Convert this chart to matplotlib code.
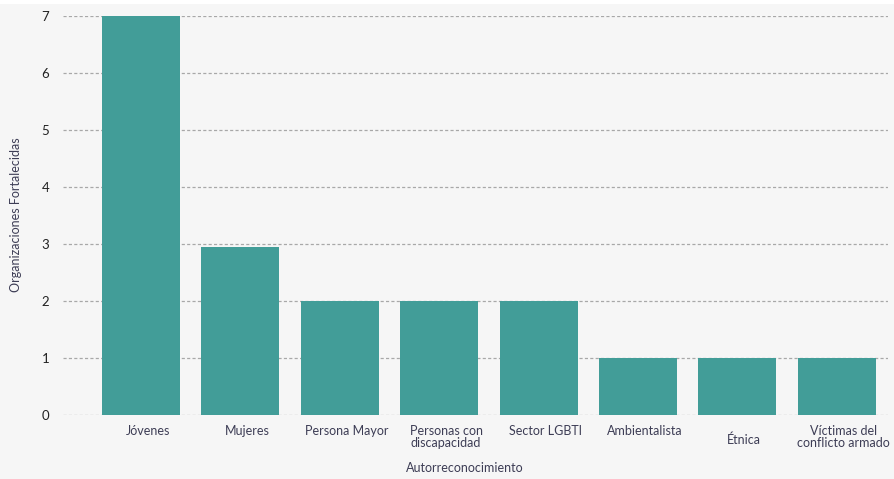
import matplotlib.pyplot as plt
import matplotlib.transforms as mtransforms
from matplotlib.patches import Rectangle

# Data
categorias = ["Jóvenes", "Mujeres", "Persona Mayor", "Personas con\ndiscapacidad",
              "Sector LGBTI", "Ambientalista", "Étnica", "Víctimas del\nconflicto armado"]
organizaciones = [7, 2.95, 2, 2, 2, 1, 1, 1]
y_ticks = [0, 1, 2, 3, 4, 5, 6, 7]

plt.rcParams["font.family"] = ["Lato", "DejaVu Sans"]

fig = plt.figure(figsize=(8.95, 4.79), dpi=100)
fig.patch.set_facecolor("#f6f6f6")
fig.patches.append(Rectangle((0, 1 - 4 / 479), 1, 4 / 479, transform=fig.transFigure,
                             facecolor="white", edgecolor="none"))

ax = fig.add_axes([63 / 895, 1 - 415 / 479, (888 - 63) / 895, (415 - 16) / 479])
ax.set_facecolor("#f6f6f6")

x = list(range(len(categorias)))
ax.bar(x, organizaciones, width=0.785, color="#429d98", zorder=3)

ax.set_xlim(-0.785, 7.515)
ax.set_ylim(0, 7)
ax.set_yticks(y_ticks)
ax.set_yticklabels([str(v) for v in y_ticks], fontsize=9.5, color="#222222")
ax.grid(axis="y", linestyle=(0, (2.5, 1.8)), color="#a8a8a8", linewidth=0.9, zorder=1)
ax.set_xticks(x)
ax.set_xticklabels(categorias, fontsize=9, color="#3d3d55", linespacing=1.0)
ax.tick_params(axis="both", length=0)
ax.tick_params(axis="y", pad=10)
ax.tick_params(axis="x", pad=7)

# small right shift like in the reference, Étnica centred on two lines
for i, lbl in enumerate(ax.get_xticklabels()):
    dx = 5 / 72
    dy = -6 / 72 if lbl.get_text() == "Étnica" else 0
    lbl.set_transform(lbl.get_transform() + mtransforms.ScaledTranslation(dx, dy, fig.dpi_scale_trans))

for s in ax.spines.values():
    s.set_visible(False)

fig.text(16 / 895, 1 - 215 / 479, "Organizaciones Fortalecidas", rotation=90,
         fontsize=9, color="#3d3d55", ha="center", va="center")
fig.text(465 / 895, 1 - 468 / 479, "Autorreconocimiento",
         fontsize=9, color="#3d3d55", ha="center", va="center")

fig.savefig("out.png", dpi=100, facecolor=fig.get_facecolor())
